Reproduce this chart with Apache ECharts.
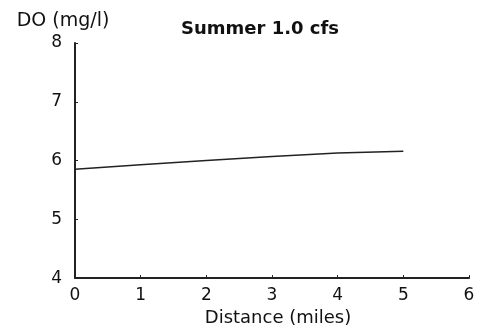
<!DOCTYPE html>
<html>
<head>
<meta charset="utf-8">
<script src="https://cdn.jsdelivr.net/npm/echarts@6/dist/echarts.min.js"></script>
<style>html,body{margin:0;padding:0;background:#fff;}#c{width:486px;height:332px;}</style>
</head>
<body>
<div id="c"></div>
<script>
const distance = [0, 1, 2, 3, 4, 5];
const doValues = [5.85, 5.93, 6.00, 6.07, 6.13, 6.16];
const xTicks = [0, 1, 2, 3, 4, 5, 6];
const yTicks = [4, 5, 6, 7, 8];

const chart = echarts.init(document.getElementById('c'));
const font = 'DejaVu Sans';
chart.setOption({
  animation: false,
  backgroundColor: '#fff',
  title: {
    text: 'Summer 1.0 cfs',
    left: 176, top: 15,
    textStyle: { fontFamily: font, fontWeight: 'bold', fontSize: 18, color: '#111' }
  },
  grid: { left: 75, right: 17, top: 43, bottom: 53, containLabel: false },
  xAxis: {
    type: 'value', min: xTicks[0], max: xTicks[xTicks.length - 1], interval: 1,
    name: 'Distance (miles)', nameLocation: 'middle', nameGap: 29,
    nameTextStyle: { fontFamily: font, fontSize: 18, color: '#111', padding: [0, 0, 0, 12] },
    axisLine: { lineStyle: { color: '#222', width: 2 } },
    axisTick: { show: true, inside: true, length: 3, lineStyle: { color: '#222' } },
    axisLabel: { fontFamily: font, fontSize: 17, color: '#111', margin: 9 },
    splitLine: { show: false }
  },
  yAxis: {
    type: 'value', min: yTicks[0], max: yTicks[yTicks.length - 1], interval: 1,
    name: 'DO (mg/l)', nameLocation: 'end', nameGap: 12,
    nameTextStyle: { fontFamily: font, fontSize: 19, color: '#111', padding: [0, 24, 0, 0] },
    axisLine: { show: true, lineStyle: { color: '#222', width: 2 } },
    axisTick: { show: true, inside: true, length: 3, lineStyle: { color: '#222' } },
    axisLabel: { fontFamily: font, fontSize: 17, color: '#111', margin: 13 },
    splitLine: { show: false }
  },
  series: [{
    type: 'line',
    data: distance.map((d, i) => [d, doValues[i]]),
    showSymbol: false,
    lineStyle: { color: '#222', width: 1.5 }
  }]
});
</script>
</body>
</html>
